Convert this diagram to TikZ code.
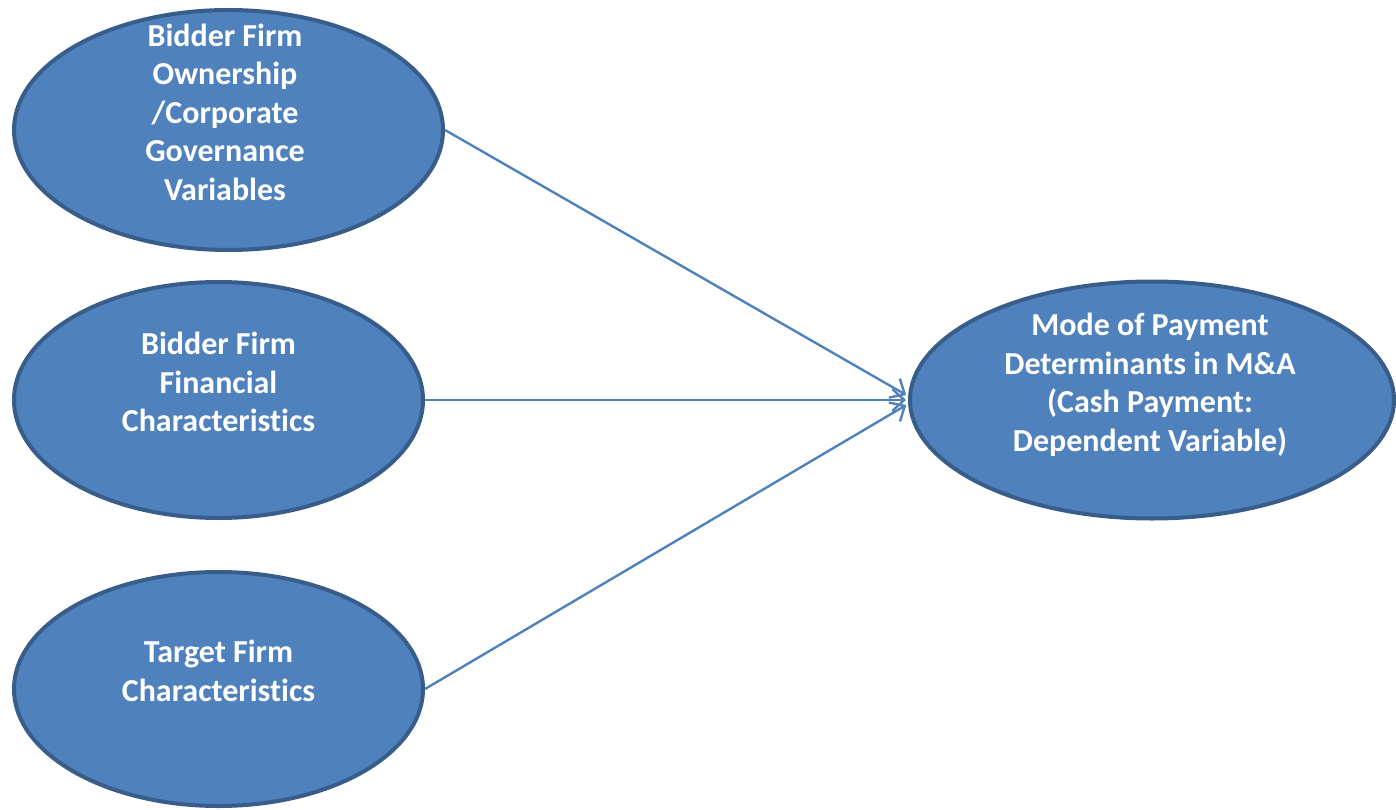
\documentclass[tikz,border=0pt]{standalone}
\usepackage{fontspec}
\setmainfont{Carlito}[Ligatures={NoCommon}]
\usetikzlibrary{shapes.geometric,arrows.meta}
\definecolor{fillblue}{HTML}{4F81BD}
\definecolor{edgeblue}{HTML}{385D8A}
\tikzset{
  oval/.style={ellipse,draw=edgeblue,fill=fillblue,line width=4pt,inner sep=0pt},
  ovaltext/.style={text=white,font=\bfseries\fontsize{32}{38.5}\selectfont,align=center,inner sep=0pt},
  link/.style={draw=fillblue,line width=2.4pt,shorten >=2pt,-{Straight Barb[length=12pt,width=22pt]}}
}
\begin{document}
\begin{tikzpicture}[x=1pt,y=-1pt]
  \useasboundingbox (0,0) rectangle (1396,810);
  % the three sources and the dependent variable
  \node[oval,minimum width=429pt,minimum height=240pt](own) at (228.5,130){};
  \node[oval,minimum width=409pt,minimum height=236pt](fin) at (218.5,400){};
  \node[oval,minimum width=409pt,minimum height=234pt](tgt) at (218.5,689){};
  \node[oval,minimum width=484pt,minimum height=237pt](mode) at (1152,400){};
  \node[ovaltext](own-t) at (225,112){Bidder Firm\\Ownership\\/Corporate\\Governance\\Variables};
  \node[ovaltext](fin-t) at (218.5,382){Bidder Firm\\Financial\\Characteristics};
  \node[ovaltext](tgt-t) at (218.5,671){Target Firm\\Characteristics};
  \node[ovaltext](mode-t) at (1150,385){Mode of Payment\\Determinants in M\&A\\(Cash Payment:\\Dependent Variable)};
  \foreach \a/\s in {own/4,fin/0,tgt/-4}{\draw[link](\a.east)--([yshift=\s pt]mode.west);}
\end{tikzpicture}
\end{document}
